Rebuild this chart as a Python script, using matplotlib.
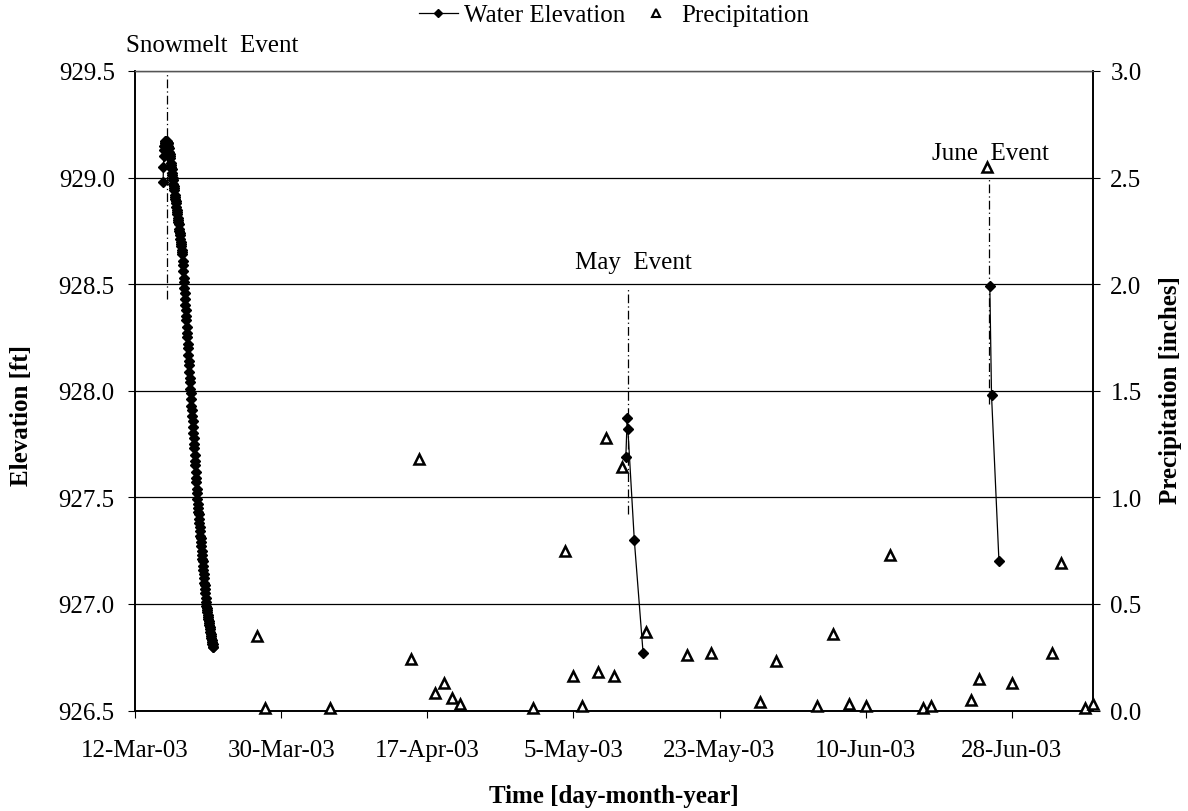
import datetime as dt
import matplotlib
matplotlib.use("Agg")
import matplotlib.pyplot as plt
from matplotlib.lines import Line2D

plt.rcParams['font.family'] = ['Liberation Serif', 'DejaVu Serif']

# ---------------------------------------------------------------------------
# Data
# ---------------------------------------------------------------------------
# Hourly water elevation [ft] during the snowmelt recession
snowmelt_start = dt.datetime(2003, 3, 15, 11)
snowmelt_elev = [
    928.98, 929.05, 929.10, 929.13, 929.15, 929.16, 929.16, 929.17, 929.17, 929.17,
    929.17, 929.17, 929.16, 929.16, 929.16, 929.16, 929.15, 929.14, 929.12, 929.11,
    929.10, 929.09, 929.07, 929.06, 929.05, 929.04, 929.02, 929.01, 929.00, 928.99,
    928.97, 928.96, 928.95, 928.94, 928.92, 928.91, 928.90, 928.89, 928.88, 928.86,
    928.85, 928.84, 928.83, 928.81, 928.80, 928.79, 928.78, 928.76, 928.75, 928.74,
    928.73, 928.71, 928.70, 928.69, 928.68, 928.66, 928.65, 928.64, 928.61, 928.59,
    928.56, 928.53, 928.51, 928.48, 928.46, 928.43, 928.40, 928.38, 928.35, 928.33,
    928.30, 928.27, 928.25, 928.22, 928.20, 928.17, 928.14, 928.12, 928.09, 928.06,
    928.04, 928.01, 927.99, 927.96, 927.93, 927.91, 927.88, 927.86, 927.83, 927.80,
    927.78, 927.75, 927.73, 927.70, 927.67, 927.65, 927.62, 927.59, 927.57, 927.54,
    927.52, 927.49, 927.47, 927.45, 927.43, 927.42, 927.40, 927.38, 927.36, 927.34,
    927.32, 927.31, 927.29, 927.27, 927.25, 927.23, 927.21, 927.20, 927.18, 927.16,
    927.14, 927.12, 927.10, 927.09, 927.07, 927.05, 927.03, 927.01, 926.99, 926.98,
    926.97, 926.96, 926.95, 926.94, 926.93, 926.92, 926.91, 926.90, 926.89, 926.88,
    926.87, 926.86, 926.85, 926.84, 926.83, 926.82, 926.81, 926.81, 926.80, 926.80,
]

may_times = [dt.datetime(2003, 5, 11, 11), dt.datetime(2003, 5, 11, 15),
             dt.datetime(2003, 5, 11, 17), dt.datetime(2003, 5, 12, 12),
             dt.datetime(2003, 5, 13, 14)]
may_elev = [927.69, 927.87, 927.82, 927.30, 926.77]

june_times = [dt.datetime(2003, 6, 25, 7), dt.datetime(2003, 6, 25, 12),
              dt.datetime(2003, 6, 26, 10)]
june_elev = [928.49, 927.98, 927.20]

# Daily precipitation [inches]
precip_dates = [
    (3, 27), (3, 28), (4, 5), (4, 15), (4, 16), (4, 18), (4, 19), (4, 20), (4, 21),
    (4, 30), (5, 4), (5, 5), (5, 6), (5, 8), (5, 9), (5, 10), (5, 11), (5, 14),
    (5, 19), (5, 22), (5, 28), (5, 30), (6, 4), (6, 6), (6, 8), (6, 10), (6, 13),
    (6, 17), (6, 18), (6, 23), (6, 24), (6, 25), (6, 28), (7, 3), (7, 4), (7, 7),
    (7, 8),
]
precip_in = [
    0.35, 0.01, 0.01, 0.24, 1.18, 0.08, 0.13, 0.06, 0.03,
    0.01, 0.75, 0.16, 0.02, 0.18, 1.28, 0.16, 1.14, 0.37,
    0.26, 0.27, 0.04, 0.23, 0.02, 0.36, 0.03, 0.02, 0.73,
    0.01, 0.02, 0.05, 0.15, 2.55, 0.13, 0.27, 0.69, 0.01,
    0.03,
]

tick_labels = ['12-Mar-03', '30-Mar-03', '17-Apr-03', '5-May-03',
               '23-May-03', '10-Jun-03', '28-Jun-03']
x_start = dt.datetime(2003, 3, 12)
x_end = dt.datetime(2003, 7, 8)
elev_ticks = [926.5, 927.0, 927.5, 928.0, 928.5, 929.0, 929.5]
precip_ticks = [0.0, 0.5, 1.0, 1.5, 2.0, 2.5, 3.0]

# Storm / melt event markers: name, time, vertical extent, label anchor
event_names = ['Snowmelt  Event', 'May  Event', 'June  Event']
event_times = [dt.datetime(2003, 3, 16, 0), dt.datetime(2003, 5, 11, 16),
               dt.datetime(2003, 6, 25, 6)]
event_top = [929.50, 928.48, 929.00]
event_bottom = [928.43, 927.42, 927.94]
event_label_x = [dt.datetime(2003, 3, 21, 13), dt.datetime(2003, 5, 12, 8),
                 dt.datetime(2003, 6, 25, 10)]
event_label_y = [929.595, 928.575, 929.085]

# ---------------------------------------------------------------------------
# Figure
# ---------------------------------------------------------------------------
W, H = 1188, 812
fig = plt.figure(figsize=(W / 100, H / 100), dpi=100)
ax = fig.add_axes([135 / W, 1 - 711.5 / H, (1093 - 135) / W, (711.5 - 72) / H])
ax2 = ax.twinx()

FS = 18
line_kw = dict(color='black', lw=0.9, marker='D', ms=5.6, mfc='black',
               mec='black', mew=1.0, zorder=3)

snow_times = [snowmelt_start + dt.timedelta(hours=i) for i in range(len(snowmelt_elev))]
ax.plot(snow_times, snowmelt_elev, **line_kw)
ax.plot(may_times, may_elev, **line_kw)
ax.plot(june_times, june_elev, **line_kw)

precip_times = [dt.datetime(2003, m, d) for m, d in precip_dates]
ax2.plot(precip_times, precip_in, linestyle='none', marker='^', ms=6.5,
         mfc='white', mec='black', mew=1.8, clip_on=False, zorder=4)

# event lines and labels
for name, t, top, bot, lx, ly in zip(event_names, event_times, event_top,
                                     event_bottom, event_label_x, event_label_y):
    ax.plot([t, t], [bot, top], color='black', lw=0.9,
            linestyle=(0, (7, 2.5, 1, 2.5)), zorder=2, clip_on=False)
    ax.text(lx, ly, name, ha='center', va='baseline', fontsize=FS,
            clip_on=False, zorder=5)

# axes scales
ax.set_xlim(x_start, x_end)
ax.set_ylim(926.5, 929.5)
ax2.set_ylim(0.0, 3.0)

tick_dates = [x_start + dt.timedelta(days=18 * i) for i in range(len(tick_labels))]
ax.set_xticks(tick_dates)
ax.set_xticklabels(tick_labels)
ax.set_yticks(elev_ticks)
ax.set_yticklabels([f'{v:.1f}' for v in elev_ticks])
ax2.set_yticks(precip_ticks)
ax2.set_yticklabels([f'{v:.1f}' for v in precip_ticks])

ax.tick_params(axis='x', direction='out', length=5, width=0.8, pad=15.5,
               labelsize=FS)
ax.tick_params(axis='y', direction='out', length=5, width=0.8, pad=9.5,
               labelsize=FS)
ax2.tick_params(axis='y', direction='out', length=5, width=0.8, pad=7.5,
                labelsize=FS)

ax.yaxis.grid(True, color='black', lw=0.9)
ax.set_axisbelow(True)

for a in (ax, ax2):
    for side in ('left', 'right', 'bottom'):
        a.spines[side].set_color('black')
        a.spines[side].set_linewidth(1.2)
    a.spines['top'].set_color('#555555')
    a.spines['top'].set_linewidth(0.9)
ax2.patch.set_visible(False)

# axis titles
fig.text(21.7 / W, 1 - 416 / H, 'Elevation [ft]', rotation=90, ha='center',
         va='center', fontsize=FS, fontweight='bold')
fig.text(1170 / W, 1 - 390 / H, 'Precipitation [inches]', rotation=90,
         ha='center', va='center', fontsize=FS, fontweight='bold')
fig.text(614 / W, 1 - 797 / H, 'Time [day-month-year]', ha='center',
         va='center', fontsize=FS, fontweight='bold')

# legend
handles = [
    Line2D([], [], color='black', lw=0.9, marker='D', ms=4.5, mfc='black',
           mec='black'),
    Line2D([], [], linestyle='none', marker='^', ms=5.5, mfc='white',
           mec='black', mew=1.5),
]
fig.legend(handles, ['Water Elevation', 'Precipitation'], loc='center',
           bbox_to_anchor=(614 / W, 1 - 16 / H), ncol=2, frameon=False,
           fontsize=FS, handlelength=1.55, handletextpad=0.25,
           columnspacing=0.45, borderpad=0, borderaxespad=0)

fig.savefig('out.png', dpi=100, facecolor='white')
